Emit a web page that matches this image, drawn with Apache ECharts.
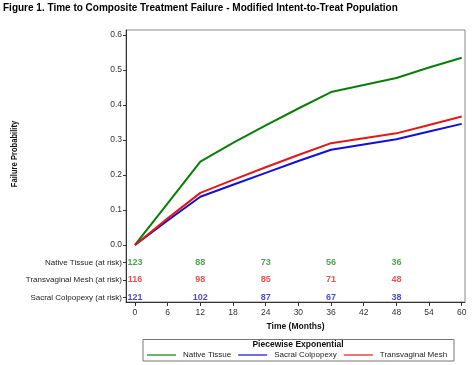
<!DOCTYPE html>
<html><head><meta charset="utf-8">
<script src="https://cdn.jsdelivr.net/npm/echarts@6/dist/echarts.min.js"></script>
<style>html,body{margin:0;padding:0;background:#fff}#c{width:474px;height:365px}</style>
</head><body><div id="c"></div>
<script>
const months = [0, 6, 12, 18, 24, 30, 36, 42, 48, 54, 60];
const nativeTissue = [0, 0.119, 0.238, 0.292, 0.342, 0.390, 0.437, 0.457, 0.477, 0.507, 0.535];
const sacralColpopexy = [0, 0.070, 0.138, 0.172, 0.206, 0.240, 0.272, 0.287, 0.302, 0.324, 0.346];
const transvaginalMesh = [0, 0.076, 0.149, 0.186, 0.222, 0.257, 0.291, 0.305, 0.319, 0.343, 0.367];
const riskMonths = [0, 12, 24, 36, 48];
const riskNative = [123, 88, 73, 56, 36];
const riskMesh = [116, 98, 85, 71, 48];
const riskSacral = [121, 102, 87, 67, 38];
const xTicks = [0, 6, 12, 18, 24, 30, 36, 42, 48, 54, 60];
const yTicks = [0, 0.1, 0.2, 0.3, 0.4, 0.5, 0.6];
const riskRowNames = ['Native Tissue (at risk)', 'Transvaginal Mesh (at risk)', 'Sacral Colpopexy (at risk)'];
const riskRowPos = [-0.05, -0.10, -0.15];

const cGreen = '#0b7d0b', cBlue = '#1010d8', cRed = '#e01818';
const font = 'Arial, "Liberation Sans", sans-serif';

const chart = echarts.init(document.getElementById('c'), null, {renderer: 'canvas'});
function pairs(xs, ys) { return xs.map((x, i) => [x, ys[i]]); }
function riskSeries(vals, y, color) {
  return {
    type: 'scatter', silent: true, symbol: 'circle', symbolSize: 1,
    itemStyle: {color: 'transparent'}, clip: false,
    data: riskMonths.map((m, i) => [m, y, vals[i]]),
    label: {show: true, position: 'inside', formatter: p => String(p.value[2]),
      color: color, fontFamily: font, fontSize: 9, fontWeight: 'bold'}
  };
}
const yLabelVals = yTicks.concat(riskRowPos);
chart.setOption({
  animation: false,
  backgroundColor: '#fff',
  textStyle: {fontFamily: font},
  grid: {left: 126, right: 9, top: 30, bottom: 63, show: true, borderColor: '#8a8a8a', borderWidth: 1},
  xAxis: {
    type: 'value', min: -1.65, max: 60.6,
    name: 'Time (Months)', nameLocation: 'middle', nameGap: 20,
    nameTextStyle: {fontSize: 8.5, fontWeight: 'bold', color: '#111', fontFamily: font},
    axisLine: {show: true, onZero: false, lineStyle: {color: '#333', width: 1}},
    axisTick: {show: true, length: 4, customValues: xTicks, lineStyle: {color: '#333'}},
    axisLabel: {customValues: xTicks, fontSize: 8.5, color: '#333', margin: 6, fontFamily: font},
    splitLine: {show: false}
  },
  yAxis: {
    type: 'value', min: -0.1629, max: 0.6143,
    axisLine: {show: true, onZero: false, lineStyle: {color: '#333', width: 1}},
    axisTick: {show: true, length: 3, customValues: yLabelVals, lineStyle: {color: '#333'}},
    axisLabel: {customValues: yLabelVals, fontSize: 8.5, color: '#333', margin: 4, fontFamily: font,
      formatter: v => {
        if (v >= -0.001) return v.toFixed(1);
        const k = riskRowPos.findIndex(r => Math.abs(r - v) < 0.001);
        return k >= 0 ? '{n|' + riskRowNames[k] + '}' : '';
      },
      rich: {n: {fontSize: 8, color: '#222', fontFamily: font}}},
    splitLine: {show: false}
  },
  legend: {
    data: [{name: 'Native Tissue', icon: 'rect'}, {name: 'Sacral Colpopexy', icon: 'rect'}, {name: 'Transvaginal Mesh', icon: 'rect'}],
    left: 147, top: 351, width: 320, itemWidth: 29, itemHeight: 1.2, itemGap: 7, padding: 0,
    textStyle: {fontSize: 8, color: '#222', fontFamily: font, padding: [0, 0, 0, 2]}
  },
  graphic: [
    {type: 'rect', shape: {x: 143, y: 339.5, width: 311, height: 21.5},
      style: {fill: 'none', stroke: '#777', lineWidth: 1}, silent: true},
    {type: 'text', x: 298, y: 340.5, style: {text: 'Piecewise Exponential', fontSize: 8.5, fontWeight: 'bold',
      fontFamily: font, fill: '#111', align: 'center', verticalAlign: 'top'}},
    {type: 'text', x: 3, y: 3, style: {text: 'Figure 1. Time to Composite Treatment Failure - Modified Intent-to-Treat Population',
      fontSize: 10, fontWeight: 'bold', fontFamily: font, fill: '#000', align: 'left', verticalAlign: 'top'}},
    {type: 'text', x: 14, y: 154, rotation: Math.PI / 2, scaleX: 0.8, style: {text: 'Failure Probability', fontSize: 9.5, fontWeight: 'bold',
      fontFamily: font, fill: '#111', align: 'center', verticalAlign: 'middle'}}
  ],
  series: [
    {name: 'Native Tissue', type: 'line', symbol: 'none', data: pairs(months, nativeTissue),
      lineStyle: {color: cGreen, width: 2}, itemStyle: {color: cGreen}, z: 3},
    {name: 'Sacral Colpopexy', type: 'line', symbol: 'none', data: pairs(months, sacralColpopexy),
      lineStyle: {color: cBlue, width: 2}, itemStyle: {color: cBlue}, z: 3},
    {name: 'Transvaginal Mesh', type: 'line', symbol: 'none', data: pairs(months, transvaginalMesh),
      lineStyle: {color: cRed, width: 2}, itemStyle: {color: cRed}, z: 4},
    riskSeries(riskNative, riskRowPos[0], '#2a8a2a'),
    riskSeries(riskMesh, riskRowPos[1], '#e02828'),
    riskSeries(riskSacral, riskRowPos[2], '#1c1cc0')
  ]
});
</script></body></html>
